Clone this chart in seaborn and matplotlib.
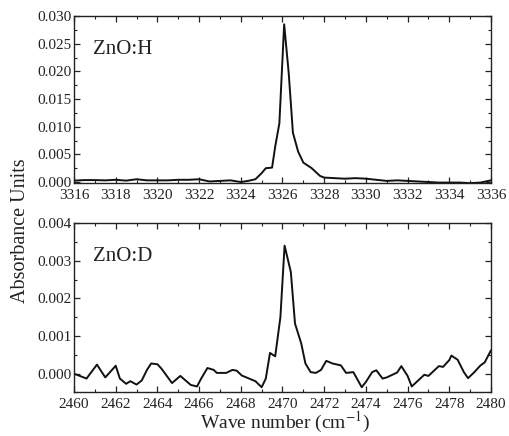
import matplotlib
matplotlib.use("Agg")
import matplotlib.pyplot as plt
from matplotlib.ticker import MultipleLocator, AutoMinorLocator
import seaborn as sns
import pandas as pd

# ZnO:H spectrum (O-H stretch region)
h_wavenumber = [3316.0, 3316.5, 3317.0, 3317.5, 3318.0, 3318.5, 3319.0, 3319.5, 3320.0, 3320.5,
                3321.0, 3321.5, 3322.0, 3322.5, 3323.0, 3323.5, 3324.0, 3324.35, 3324.7, 3325.0,
                3325.2, 3325.5, 3325.65, 3325.85, 3326.08, 3326.3, 3326.5, 3326.75, 3327.0, 3327.4,
                3327.8, 3328.0, 3328.5, 3329.0, 3329.5, 3330.0, 3330.5, 3331.0, 3331.5, 3332.0,
                3332.5, 3333.0, 3333.5, 3334.0, 3334.5, 3335.0, 3335.5, 3336.0]
h_absorbance = [0.00025, 0.00035, 0.00035, 0.0003, 0.0004, 0.00025, 0.0005, 0.0003, 0.0003, 0.0003,
                0.0004, 0.0004, 0.0005, 0.0001, 0.0002, 0.0003, 0.0000, 0.0002, 0.0005, 0.0016,
                0.0025, 0.0026, 0.0064, 0.0106, 0.0285, 0.0196, 0.0089, 0.0055, 0.0035, 0.0025,
                0.0011, 0.0008, 0.0007, 0.0006, 0.0007, 0.0006, 0.0004, 0.0002, 0.0003, 0.0002,
                0.0001, 0.0000, -0.0001, -0.0001, -0.0001, -0.0002, -0.0001, 0.0003]

# ZnO:D spectrum (O-D stretch region)
d_wavenumber = [2460.0, 2460.6, 2461.1, 2461.5, 2462.0, 2462.2, 2462.5, 2462.7, 2463.0, 2463.25,
                2463.5, 2463.7, 2464.0, 2464.2, 2464.7, 2465.1, 2465.6, 2465.9, 2466.1, 2466.4,
                2466.7, 2466.85, 2467.3, 2467.6, 2467.8, 2468.05, 2468.7, 2469.0, 2469.2, 2469.4,
                2469.65, 2469.9, 2470.1, 2470.4, 2470.6, 2470.9, 2471.1, 2471.35, 2471.6, 2471.85,
                2472.1, 2472.4, 2472.8, 2473.05, 2473.4, 2473.8, 2474.0, 2474.3, 2474.5, 2474.8,
                2475.0, 2475.5, 2475.7, 2476.0, 2476.2, 2476.8, 2477.0, 2477.5, 2477.7, 2478.0,
                2478.1, 2478.4, 2478.7, 2478.9, 2479.2, 2479.5, 2479.7, 2480.0]
d_absorbance = [0.00000, -0.00013, 0.00024, -0.00010, 0.00021, -0.00013, -0.00027, -0.00020, -0.00029, -0.00018,
                0.00010, 0.00027, 0.00025, 0.00013, -0.00025, -0.00006, -0.00030, -0.00034, -0.00013, 0.00015,
                0.00010, 0.00002, 0.00002, 0.00010, 0.00008, -0.00005, -0.00020, -0.00036, -0.00013, 0.00055,
                0.00046, 0.00150, 0.00340, 0.00270, 0.00133, 0.00080, 0.00027, 0.00004, 0.00002, 0.00010,
                0.00034, 0.00027, 0.00022, 0.00002, 0.00004, -0.00036, -0.00022, 0.00004, 0.00009, -0.00013,
                -0.00010, 0.00003, 0.00020, -0.00006, -0.00034, -0.00003, -0.00006, 0.00020, 0.00018, 0.00036,
                0.00048, 0.00037, 0.00004, -0.00012, 0.00004, 0.00022, 0.00030, 0.00062]

sns.set_style("ticks")
plt.rcParams["font.family"] = ["Liberation Serif", "DejaVu Serif"]
plt.rcParams["mathtext.fontset"] = "stix"

fig = plt.figure(figsize=(5.09, 4.36), dpi=100)
ax_h = fig.add_axes([0.1454, 0.580, 0.8192, 0.3833])
ax_d = fig.add_axes([0.1454, 0.0998, 0.8192, 0.3887])

df_h = pd.DataFrame({"x": h_wavenumber, "y": h_absorbance})
df_d = pd.DataFrame({"x": d_wavenumber, "y": d_absorbance})

sns.lineplot(data=df_h, x="x", y="y", ax=ax_h, color="#111111", linewidth=1.4, sort=False)
sns.lineplot(data=df_d, x="x", y="y", ax=ax_d, color="#111111", linewidth=1.4, sort=False)

ax_h.set_xlim(3316, 3336)
ax_h.set_ylim(-0.0002, 0.030)
ax_h.xaxis.set_major_locator(MultipleLocator(2))
ax_h.yaxis.set_major_locator(MultipleLocator(0.005))
ax_h.yaxis.set_major_formatter(matplotlib.ticker.FormatStrFormatter("%.3f"))

ax_d.set_xlim(2460, 2480)
ax_d.set_ylim(-0.0005, 0.004)
ax_d.xaxis.set_major_locator(MultipleLocator(2))
ax_d.yaxis.set_major_locator(MultipleLocator(0.001))
ax_d.yaxis.set_major_formatter(matplotlib.ticker.FormatStrFormatter("%.3f"))

for ax, label in [(ax_h, "ZnO:H"), (ax_d, "ZnO:D")]:
    ax.xaxis.set_minor_locator(AutoMinorLocator(2))
    ax.yaxis.set_minor_locator(AutoMinorLocator(2))
    ax.tick_params(which="both", direction="in", top=True, right=True, labelsize=11,
                   colors="#222222")
    ax.tick_params(axis="y", pad=2)
    ax.tick_params(axis="x", pad=4)
    ax.tick_params(which="major", length=4, width=0.9)
    ax.tick_params(which="minor", length=2.5, width=0.8)
    for s in ax.spines.values():
        s.set_linewidth(1.0)
        s.set_color("#222222")
    ax.set_xlabel("")
    ax.set_ylabel("")
    ax.text(0.045, 0.80, label, transform=ax.transAxes, fontsize=15, color="#222222",
            ha="left", va="center")

fig.text(0.04, 0.47, "Absorbance Units", rotation=90, fontsize=14.5, color="#222222",
         ha="center", va="center")
fig.text(0.56, 0.030, "Wave number (cm$^{-1}$)", fontsize=14, color="#222222",
         ha="center", va="center")

fig.savefig("out.png", dpi=100)
